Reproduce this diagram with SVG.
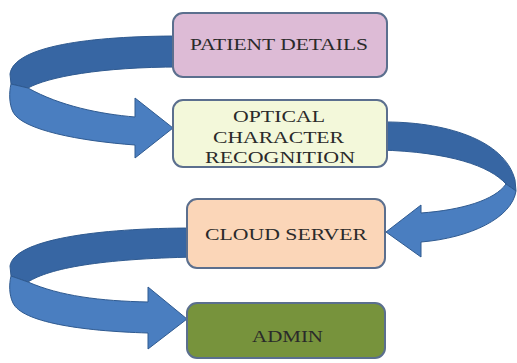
<svg xmlns="http://www.w3.org/2000/svg" width="517" height="363" viewBox="0 0 517 363">
<style>
.box{stroke:#5B6F8E;stroke-width:2}
.lbl{font-family:"Liberation Serif","Times New Roman",serif;font-size:17px;fill:#2A2A2A}
.dark{fill:#3766A3;stroke:#2F5A90;stroke-width:1}
.light{fill:#4A7EC0;stroke:#2F5A90;stroke-width:1}
</style>
<rect width="517" height="363" fill="#ffffff"/>
<g id="connectors">
  <g id="arrow1">
    <path class="dark" d="M 180 36 C 90 36, 14 46, 10 74 L 11 84 L 28 88 C 48 77, 100 67, 180 67 Z"/>
    <path class="light" d="M 11 84 L 28 88 C 60 106, 100 114, 135 117 L 135 98 L 173 128 L 135 158 L 135 145 C 80 141, 22 130, 13 112 C 9 104, 9 92, 11 84 Z"/>
  </g>
  <g id="arrow2">
    <path class="dark" d="M 380 122 C 445 121, 505 140, 515 180 L 516 191 L 506 184 C 490 166, 450 152, 380 150 Z"/>
    <path class="light" d="M 506 184 L 516 191 C 512 218, 470 238, 421 242 L 421 257 L 386 232 L 421 205 L 421 213 C 462 210, 495 200, 506 184 Z"/>
  </g>
  <g id="arrow3">
    <path class="dark" d="M 195 228 C 95 228, 14 240, 10 266 L 11 276 L 28 282 C 50 268, 100 259, 195 257 Z"/>
    <path class="light" d="M 11 276 L 28 282 C 60 296, 100 301, 148 302 L 148 287 L 187 319 L 148 349 L 148 333 C 80 331, 22 322, 13 303 C 9 295, 9 284, 11 276 Z"/>
  </g>
</g>
<g id="patient-details">
  <rect class="box" x="173" y="13" width="214" height="64" rx="10" fill="#DDBBD6"/>
  <text class="lbl" x="190" y="50" textLength="178" lengthAdjust="spacingAndGlyphs">PATIENT DETAILS</text>
</g>
<g id="ocr">
  <rect class="box" x="173" y="100" width="214" height="67" rx="10" fill="#F3F8DA"/>
  <text class="lbl" x="233" y="122" textLength="92" lengthAdjust="spacingAndGlyphs">OPTICAL</text>
  <text class="lbl" x="213" y="143" textLength="131" lengthAdjust="spacingAndGlyphs">CHARACTER</text>
  <text class="lbl" x="205" y="163" textLength="150" lengthAdjust="spacingAndGlyphs">RECOGNITION</text>
</g>
<g id="cloud-server">
  <rect class="box" x="187" y="199" width="198" height="69" rx="10" fill="#FBD6B8"/>
  <text class="lbl" x="205" y="240" textLength="162" lengthAdjust="spacingAndGlyphs">CLOUD SERVER</text>
</g>
<g id="admin">
  <rect class="box" x="187" y="303" width="198" height="55" rx="10" fill="#77933C"/>
  <text class="lbl" x="252" y="342" textLength="71" lengthAdjust="spacingAndGlyphs">ADMIN</text>
</g>
</svg>
